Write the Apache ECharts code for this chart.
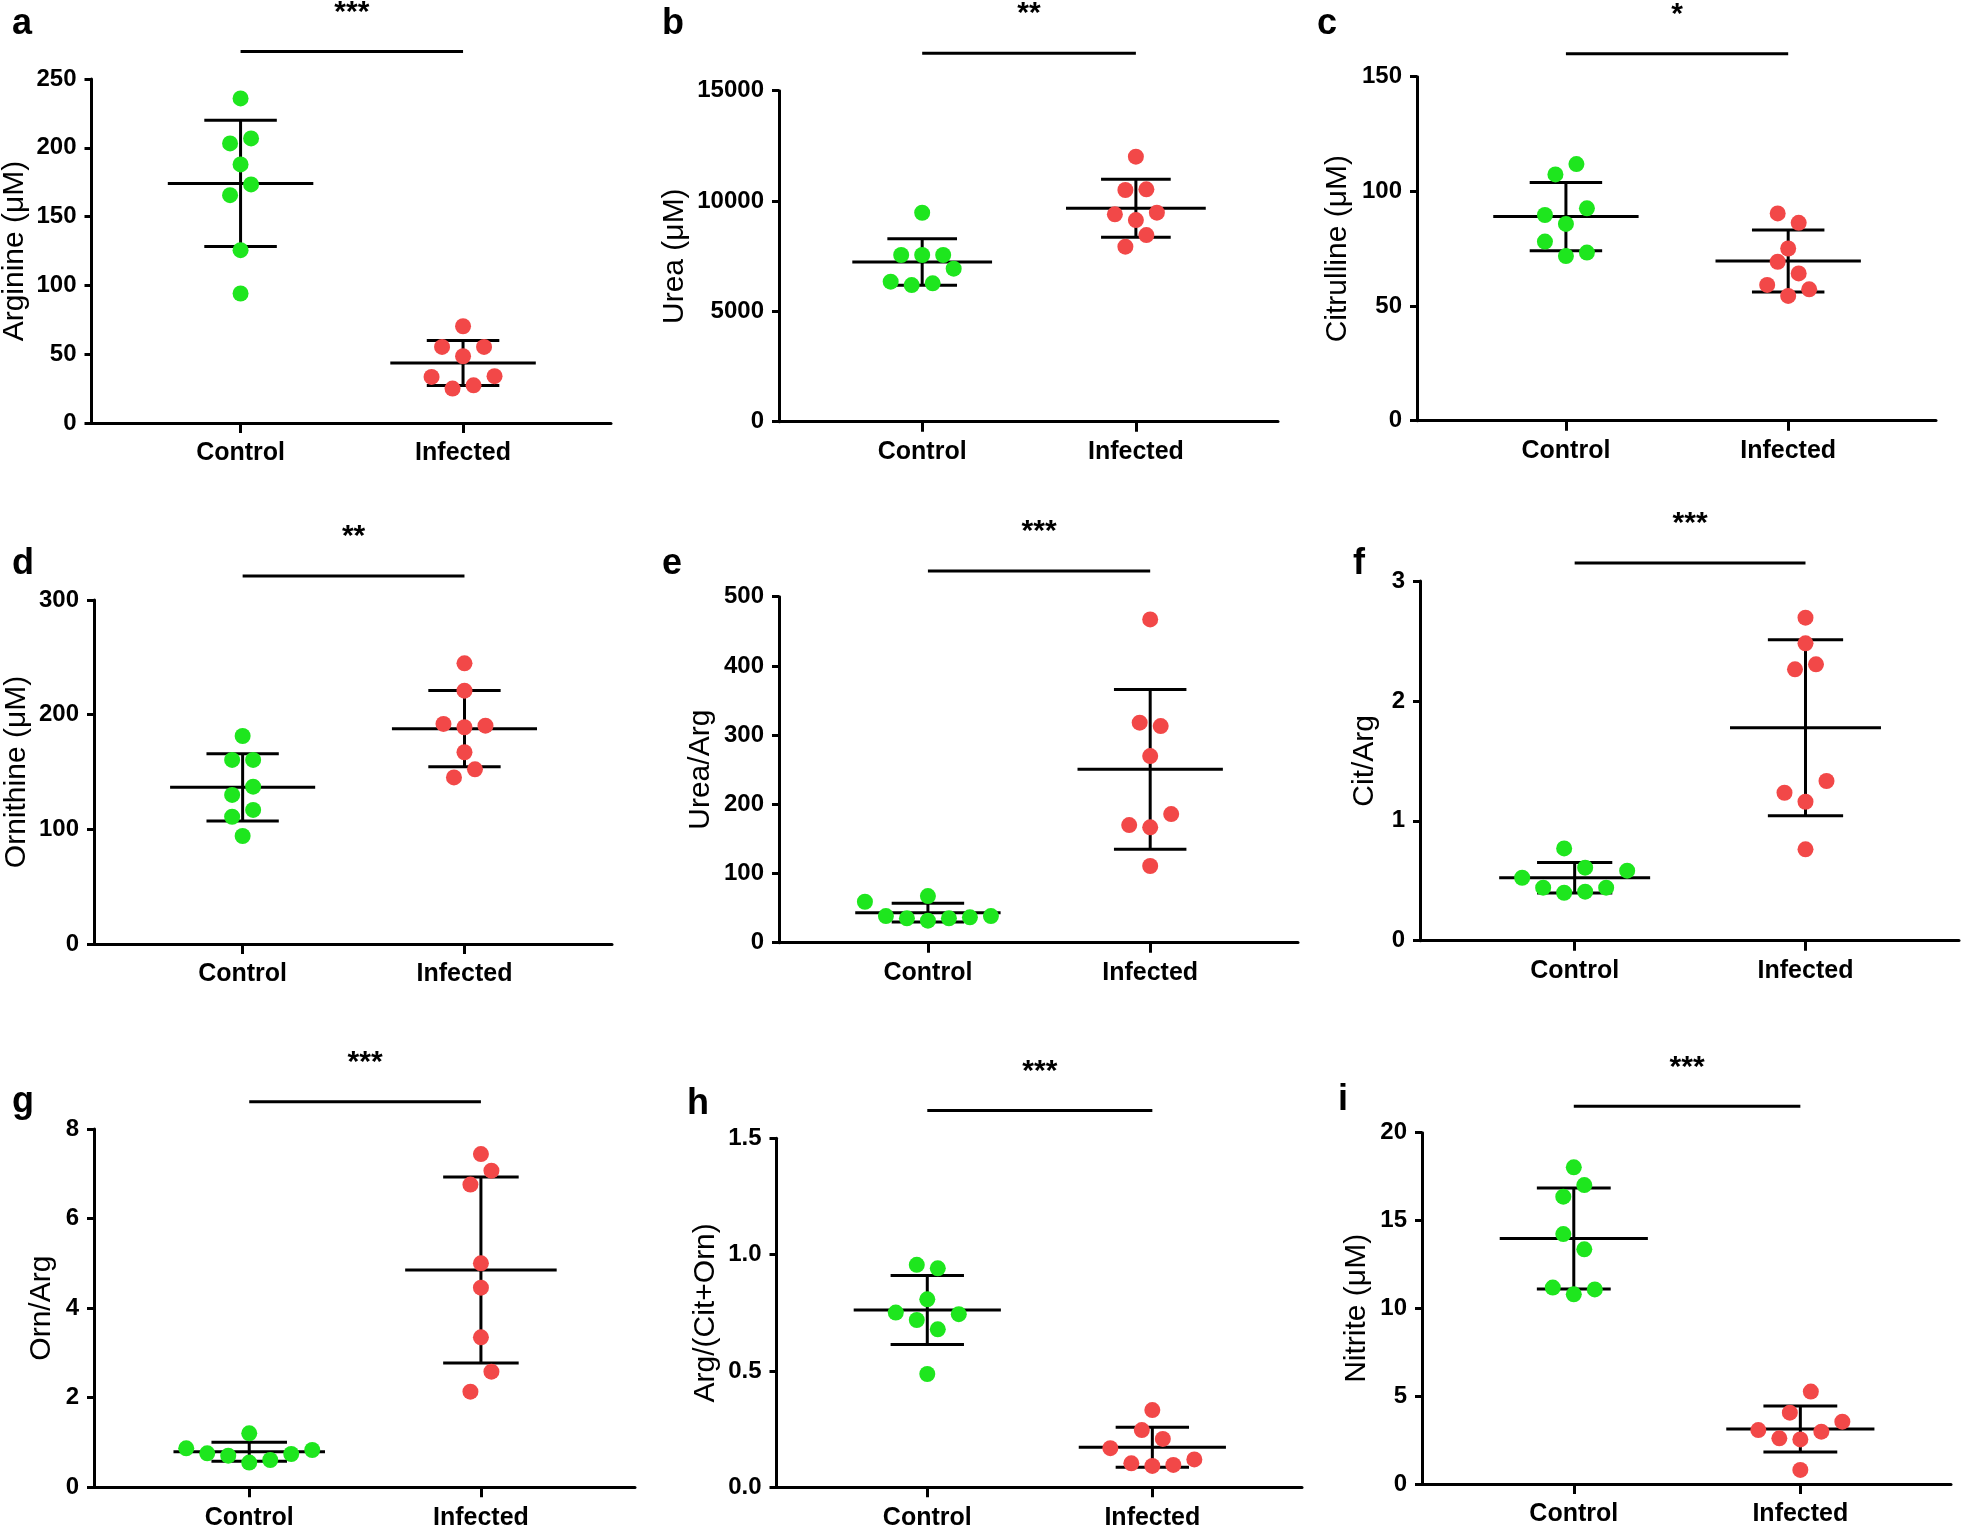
<!DOCTYPE html>
<html><head><meta charset="utf-8">
<script src="https://cdn.jsdelivr.net/npm/echarts@6/dist/echarts.min.js"></script>
<style>html,body{margin:0;padding:0;background:#fff}#c{width:1961px;height:1529px}</style>
</head><body><div id="c"></div>
<script>
// ---------- DATA ----------
const categories = ['Control', 'Infected'];
const panelLetters = ['a','b','c','d','e','f','g','h','i'];
const yTitles = ['Arginine (μM)','Urea (μM)','Citrulline (μM)','Ornithine (μM)','Urea/Arg','Cit/Arg','Orn/Arg','Arg/(Cit+Orn)','Nitrite (μM)'];
const sigLabels = ['***','**','*','**','***','***','***','***','***'];
const yMax = [250, 15000, 150, 300, 500, 3, 8, 1.5, 20];
const yStep = [50, 5000, 50, 100, 100, 1, 2, 0.5, 5];
const yDecimals = [0, 0, 0, 0, 0, 0, 0, 1, 0];
const sigLevel = [270, 16700, 160, 321, 537, 3.15, 8.61, 1.62, 21.5];

// individual values, grouped in rows as they are spread side by side (left to right)
const argControl  = [[235.9],[203.2,206.8],[187.9],[165.6,173.4],[125.6],[94.1]];
const argInfected = [[70.3],[55.3,48.5,55.3],[33.5,25.0,27.4,34.0]];
const argMean = [174.1, 43.6];
const argSD   = [45.9, 16.4];

const ureaControl  = [[9470],[7553,7553,7553],[6345,6193,6269,6934]];
const ureaInfected = [[12009],[10499,10530],[9396,9139,9471],[7931,8459]];
const ureaMean = [7236, 9668];
const ureaSD   = [1058, 1314];

const citControl  = [[107.4,111.9],[89.7,85.8,92.6],[78.1,71.8,73.3]];
const citInfected = [[90.4,86.3],[75.1],[69.3,64.2],[59.2,54.4,57.3]];
const citMean = [89.0, 69.6];
const citSD   = [14.9, 13.5];

const ornControl  = [[181.4],[160.5,160.5],[130.0,137.2],[111.0,116.9],[94.2]];
const ornInfected = [[244.8],[220.9],[191.9,189.0,190.4],[167.2],[145.3,152.3]];
const ornMean = [136.6, 187.8];
const ornSD   = [29.3, 33.2];

const ureaArgControl  = [[67.4],[59.2,38.5,35.2,31.8,35.2,36.6,38.5]];
const ureaArgInfected = [[467.2],[317.9,313.1],[269.7],[170.0,166.7,185.9],[110.8]];
const ureaArgMean = [43.4, 250.5];
const ureaArgSD   = [13.5, 115.5];

const citArgControl  = [[0.770,0.609],[0.525,0.442,0.400,0.409,0.442,0.584]];
const citArgInfected = [[2.694],[2.480],[2.263,2.305],[1.234,1.159,1.332],[0.762]];
const citArgMean = [0.525, 1.776];
const citArgSD   = [0.127, 0.733];

const ornArgControl  = [[1.205],[0.871,0.759,0.707,0.551,0.610,0.744,0.833]];
const ornArgInfected = [[7.44],[6.76,7.07],[5.00],[4.457],[3.348],[2.135,2.582]];
const ornArgMean = [0.796, 4.851];
const ornArgSD   = [0.212, 2.076];

const ratioControl  = [[0.956,0.941],[0.808],[0.751,0.719,0.679,0.744],[0.487]];
const ratioInfected = [[0.332],[0.246,0.208],[0.168,0.103,0.092,0.096,0.120]];
const ratioMean = [0.762, 0.172];
const ratioSD   = [0.148, 0.086];

const nitControl  = [[18.03],[16.36,17.02],[14.23,13.36],[11.18,10.80,11.08]];
const nitInfected = [[4.06,5.26],[3.07,2.60,2.54,2.98,3.55],[0.80]];
const nitMean = [13.98, 3.13];
const nitSD   = [2.875, 1.31];

const panels = [
  {groups:[argControl, argInfected], mean:argMean, sd:argSD},
  {groups:[ureaControl, ureaInfected], mean:ureaMean, sd:ureaSD},
  {groups:[citControl, citInfected], mean:citMean, sd:citSD},
  {groups:[ornControl, ornInfected], mean:ornMean, sd:ornSD},
  {groups:[ureaArgControl, ureaArgInfected], mean:ureaArgMean, sd:ureaArgSD},
  {groups:[citArgControl, citArgInfected], mean:citArgMean, sd:citArgSD},
  {groups:[ornArgControl, ornArgInfected], mean:ornArgMean, sd:ornArgSD},
  {groups:[ratioControl, ratioInfected], mean:ratioMean, sd:ratioSD},
  {groups:[nitControl, nitInfected], mean:nitMean, sd:nitSD}
];

// ---------- LAYOUT / STYLE ----------
const layout = [
  {x:91.5, y:79,    w:519.5, h:344,   gap:62, lx:12,   ly:39},
  {x:779,  y:90.7,  w:499,   h:331,   gap:89, lx:662,  ly:39},
  {x:1417, y:76.7,  w:519,   h:344,   gap:64, lx:1317, ly:39},
  {x:94,   y:600,   w:518,   h:344,   gap:62, lx:12,   ly:579},
  {x:779,  y:596.7, w:519,   h:346,   gap:63, lx:662,  ly:579},
  {x:1420, y:581,   w:539,   h:359.7, gap:40, lx:1353, ly:579},
  {x:94,   y:1129,  w:541,   h:358.3, gap:37, lx:12,   ly:1117},
  {x:776.5,y:1138.3,w:525.5, h:349,   gap:56, lx:687,  ly:1119},
  {x:1422, y:1132.7,w:529,   h:351.3, gap:50, lx:1338, ly:1115}
];
const X_MIN = 0.33, X_MAX = 2.665;
const COLORS = ['#1ee61e', '#f24848'];
const FONT = 'Liberation Sans, Arial, sans-serif';
const DOT = 16, SPACING = 21;
const MEAN_HALF = 0.327, CAP_HALF = 0.163;
const LW = 3;

const grids = [], xAxes = [], yAxes = [], series = [], graphics = [];

layout.forEach((L, i) => {
  grids.push({left:L.x, top:L.y, width:L.w, height:L.h, containLabel:false, outerBoundsMode:'none'});
  xAxes.push({
    type:'value', gridIndex:i, min:X_MIN, max:X_MAX,
    axisLine:{show:true, onZero:false, lineStyle:{color:'#000', width:LW}},
    axisTick:{show:true, customValues:[1,2], length:10, lineStyle:{color:'#000', width:LW}},
    axisLabel:{show:true, customValues:[1,2], margin:18, fontSize:25, fontWeight:'bold', color:'#000', fontFamily:FONT,
      formatter:(v) => categories[Math.round(v) - 1] || ''},
    splitLine:{show:false}
  });
  yAxes.push({
    type:'value', gridIndex:i, min:0, max:yMax[i], interval:yStep[i],
    axisLine:{show:true, onZero:false, lineStyle:{color:'#000', width:LW}},
    axisTick:{show:true, length:7, lineStyle:{color:'#000', width:LW}},
    axisLabel:{show:true, margin:15, fontSize:24, fontWeight:'bold', color:'#000', fontFamily:FONT,
      showMinLabel:true, showMaxLabel:true,
      formatter:(v) => v.toFixed(yDecimals[i])},
    splitLine:{show:false},
    name:yTitles[i], nameLocation:'middle', nameGap:L.gap, nameRotate:90,
    nameTextStyle:{fontSize:30, color:'#000', fontFamily:FONT}
  });

  const P = panels[i];
  const unitPerPx = (X_MAX - X_MIN) / L.w;
  // error bars (mean ± SD)
  series.push({
    type:'custom', xAxisIndex:i, yAxisIndex:i, clip:false, z:2, silent:true,
    data: P.mean.map((m, g) => [g + 1, m, P.sd[g]]),
    renderItem: (params, api) => {
      const x = api.value(0), m = api.value(1), s = api.value(2);
      const a = api.coord([x - MEAN_HALF, m]), b = api.coord([x + MEAN_HALF, m]);
      const u1 = api.coord([x - CAP_HALF, m + s]), u2 = api.coord([x + CAP_HALF, m + s]);
      const l1 = api.coord([x - CAP_HALF, m - s]), l2 = api.coord([x + CAP_HALF, m - s]);
      const c = api.coord([x, m]);
      const st = {stroke:'#000', lineWidth:LW};
      return {type:'group', children:[
        {type:'line', shape:{x1:a[0], y1:a[1], x2:b[0], y2:b[1]}, style:st},
        {type:'line', shape:{x1:u1[0], y1:u1[1], x2:u2[0], y2:u2[1]}, style:st},
        {type:'line', shape:{x1:l1[0], y1:l1[1], x2:l2[0], y2:l2[1]}, style:st},
        {type:'line', shape:{x1:c[0], y1:u1[1], x2:c[0], y2:l1[1]}, style:st}
      ]};
    }
  });
  // points, spread in rows
  P.groups.forEach((rows, g) => {
    const pts = [];
    rows.forEach(row => {
      const n = row.length;
      row.forEach((v, k) => {
        const off = (k - (n - 1) / 2) * SPACING * unitPerPx;
        pts.push([g + 1 + off, v]);
      });
    });
    series.push({
      type:'scatter', xAxisIndex:i, yAxisIndex:i, z:3, silent:true,
      symbol:'circle', symbolSize:DOT,
      itemStyle:{color:COLORS[g], opacity:1},
      data: pts
    });
  });
  // significance bar and stars
  series.push({
    type:'custom', xAxisIndex:i, yAxisIndex:i, clip:false, z:2, silent:true,
    data:[[1, 2, sigLevel[i]]],
    renderItem: (params, api) => {
      const p1 = api.coord([api.value(0), api.value(2)]);
      const p2 = api.coord([api.value(1), api.value(2)]);
      return {type:'group', children:[
        {type:'line', shape:{x1:p1[0], y1:p1[1], x2:p2[0], y2:p2[1]}, style:{stroke:'#000', lineWidth:LW}},
        {type:'text', x:(p1[0] + p2[0]) / 2, y:p1[1] - 39,
          style:{text:sigLabels[i], fill:'#000', font:'bold 30px ' + FONT, align:'center', verticalAlign:'middle'}}
      ]};
    }
  });
  graphics.push({type:'text', left:L.lx, top:L.ly - 33,
    style:{text:panelLetters[i], fill:'#000', font:'bold 36px ' + FONT}});
});

const chart = echarts.init(document.getElementById('c'), null, {renderer:'canvas'});
chart.setOption({
  backgroundColor:'#ffffff',
  animation:false,
  grid:grids, xAxis:xAxes, yAxis:yAxes, series:series, graphic:graphics
});
</script>
</body></html>
